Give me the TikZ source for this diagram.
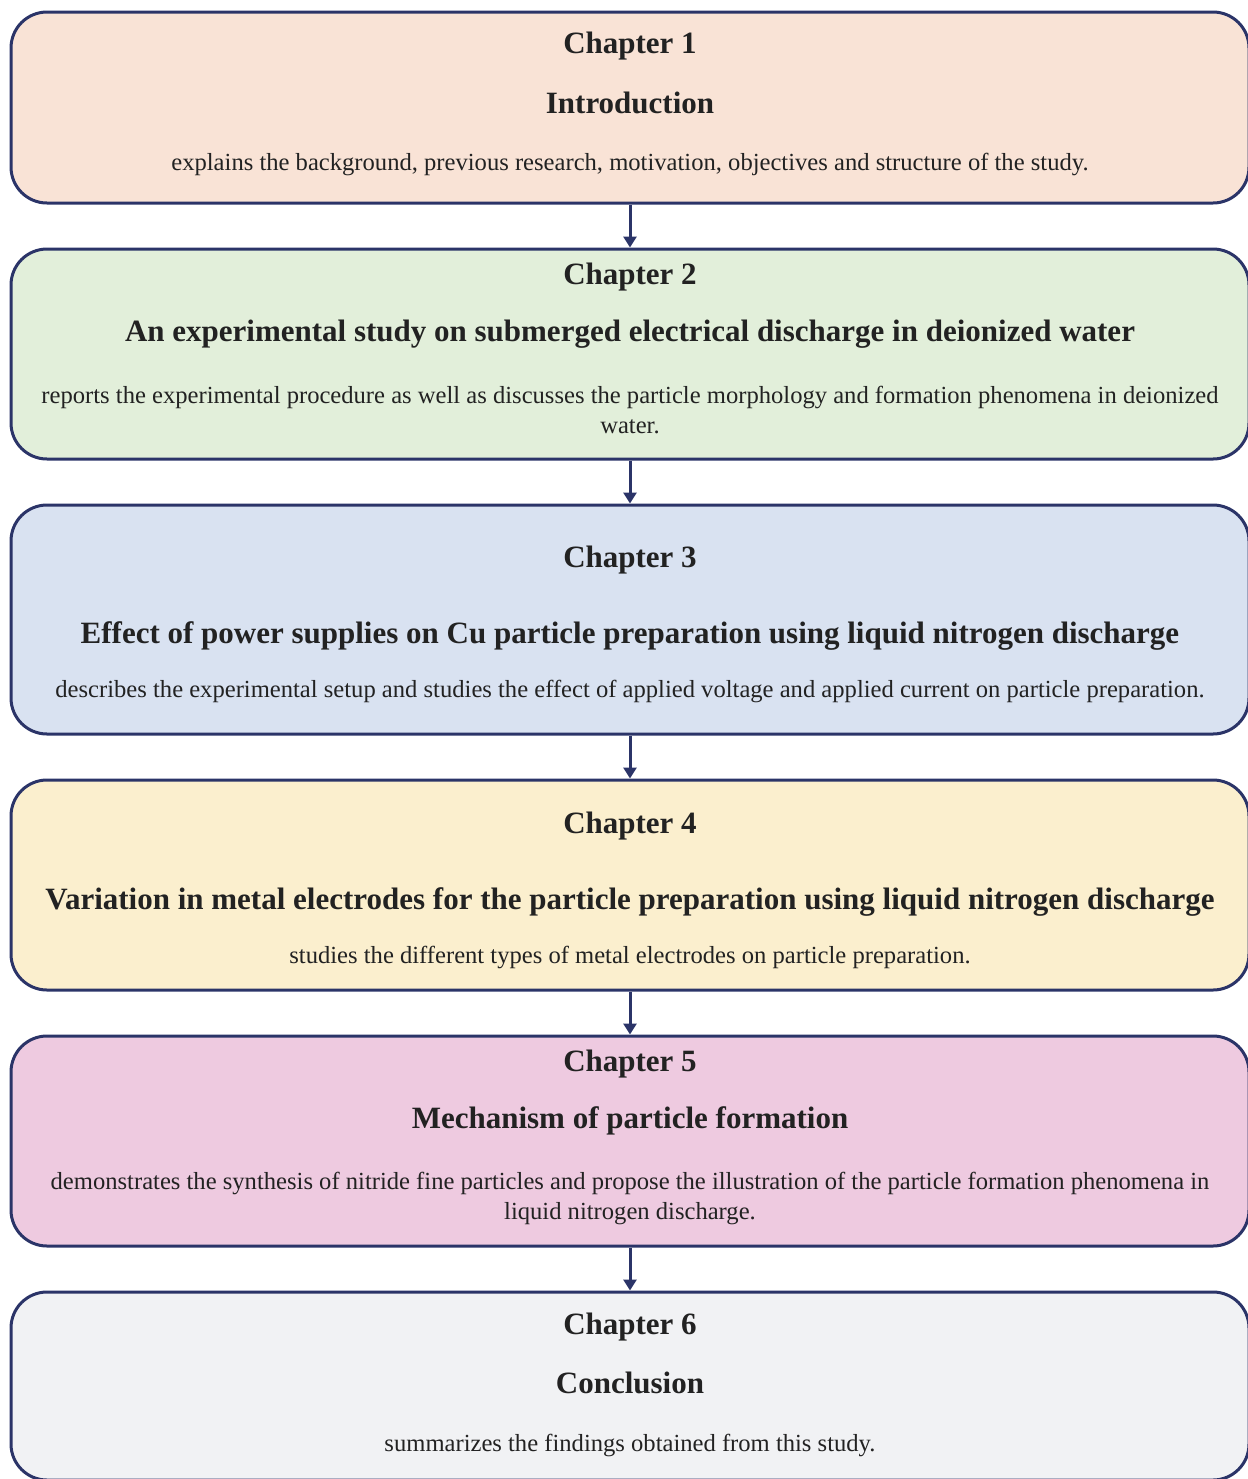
\documentclass[tikz,border=0pt]{standalone}
\usepackage{fontspec}
\setmainfont{Liberation Serif}
\usetikzlibrary{arrows.meta}
\definecolor{navy}{HTML}{2B3468}
\definecolor{peach}{HTML}{F9E3D6}
\definecolor{mint}{HTML}{E2EFDA}
\definecolor{sky}{HTML}{D9E2F1}
\definecolor{cream}{HTML}{FBEFCE}
\definecolor{pinkish}{HTML}{EECAE0}
\definecolor{pale}{HTML}{F1F2F4}
\definecolor{ink}{HTML}{222222}
\tikzset{
    chapbox/.style={draw=navy,line width=1.5pt,rounded corners=18pt,
        minimum width=619pt,inner sep=0pt},
    chaphead/.style={font=\fontsize{15.5}{18}\selectfont\bfseries,text=ink},
    chapbody/.style={font=\fontsize{12.3}{15}\selectfont,text=ink,align=center},
    arr/.style={draw=navy,line width=1.5pt,-{Triangle[length=5.5pt,width=6.5pt]}}
}
\begin{document}
\begin{tikzpicture}[x=0.5pt,y=-0.5pt]
        \useasboundingbox (0,0) rectangle (1248,1479);
        %boxes
        \node[chapbox,fill=peach,minimum height=95.5pt] (c1) at (630,107.5) {};
        \node[chapbox,fill=mint,minimum height=105pt] (c2) at (630,354) {};
        \node[chapbox,fill=sky,minimum height=114.5pt] (c3) at (630,619.5) {};
        \node[chapbox,fill=cream,minimum height=105pt] (c4) at (630,885) {};
        \node[chapbox,fill=pinkish,minimum height=105pt] (c5) at (630,1141) {};
        \node[chapbox,fill=pale,minimum height=94pt] (c6) at (630,1386) {};
        %chapter 1
        \node[chaphead] (h1) at (630,46) {Chapter 1};
        \node[chaphead] (t1) at (630,103) {Introduction};
        \node[chapbody] (b1) at (630,164) {explains the background, previous research, motivation, objectives and structure of the study.};
        %chapter 2
        \node[chaphead] (h2) at (630,277) {Chapter 2};
        \node[chaphead] (t2) at (630,334) {An experimental study on submerged electrical discharge in deionized water};
        \node[chapbody] (b2) at (630,410) {reports the experimental procedure as well as discusses the particle morphology and formation phenomena in deionized\\ water.};
        %chapter 3
        \node[chaphead] (h3) at (630,560) {Chapter 3};
        \node[chaphead] (t3) at (630,636) {Effect of power supplies on Cu particle preparation using liquid nitrogen discharge};
        \node[chapbody] (b3) at (630,691) {describes the experimental setup and studies the effect of applied voltage and applied current on particle preparation.};
        %chapter 4
        \node[chaphead] (h4) at (630,826) {Chapter 4};
        \node[chaphead] (t4) at (630,902) {Variation in metal electrodes for the particle preparation using liquid nitrogen discharge};
        \node[chapbody] (b4) at (630,957) {studies the different types of metal electrodes on particle preparation.};
        %chapter 5
        \node[chaphead] (h5) at (630,1064) {Chapter 5};
        \node[chaphead] (t5) at (630,1121) {Mechanism of particle formation};
        \node[chapbody] (b5) at (630,1198) {demonstrates the synthesis of nitride fine particles and propose the illustration of the particle formation phenomena in\\ liquid nitrogen discharge.};
        %chapter 6
        \node[chaphead] (h6) at (630,1327) {Chapter 6};
        \node[chaphead] (t6) at (630,1383) {Conclusion};
        \node[chapbody] (b6) at (630,1445) {summarizes the findings obtained from this study.};
        %arrows
        \foreach \a/\b in {c1/c2,c2/c3,c3/c4,c4/c5,c5/c6}
            \draw[arr] (\a.south) -- (\b.north);
    \end{tikzpicture}
\end{document}
